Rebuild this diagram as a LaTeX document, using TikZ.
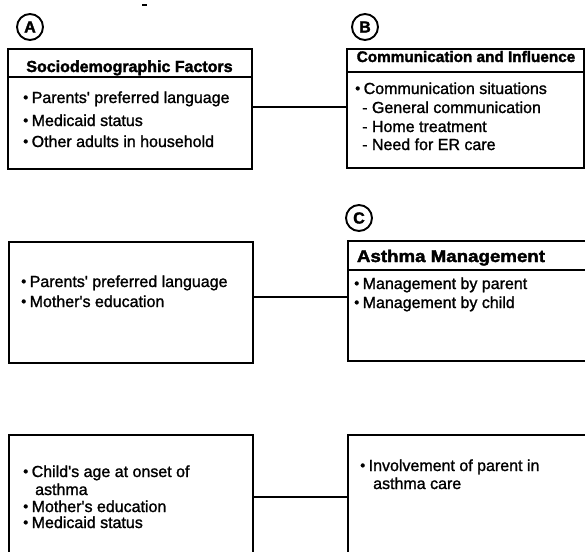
\documentclass[tikz,border=0pt]{standalone}
\usepackage{fontspec}
\setmainfont{Liberation Sans}
\newfontfamily\bodyf[FakeBold=1.3]{Liberation Sans}
\newfontfamily\headf[FakeBold=2]{Liberation Sans Bold}
\usepackage{graphicx}
\newcommand{\bu}{\makebox[8.5pt][l]{\raisebox{0.05em}{\scalebox{0.9}{•}}}}
\begin{document}
\begin{tikzpicture}[x=1pt,y=-1pt,
  box/.style={draw, line width=1.5pt, rectangle, inner sep=0pt, anchor=north west},
  ttl/.style={font=\fontsize{16}{18}\selectfont\headf, anchor=base, inner sep=0pt},
  itm/.style={font=\fontsize{16}{18}\selectfont\bodyf, anchor=base west, inner sep=0pt},
  lbl/.style={draw, circle, line width=1.9pt, minimum size=26pt, inner sep=0pt, font=\fontsize{16}{16}\selectfont\headf},
  link/.style={line width=1.5pt}]
\useasboundingbox (0,0) rectangle (585,551);
\clip (0,0) rectangle (585,551);
\fill[white] (0,0) rectangle (585,551);
% stray mark
\coordinate (m1) at (142,5);
\coordinate (m2) at (147,5);
\draw[line width=1.5pt] (m1) -- (m2);
% boxes
\node[box, minimum width=244pt, minimum height=120pt] (A) at (7,48) {};
\node[box, minimum width=237pt, minimum height=119pt] (B) at (346,48) {};
\node[box, minimum width=244pt, minimum height=121pt] (D) at (8,241) {};
\node[box, minimum width=250pt, minimum height=120pt] (C) at (347,240) {};
\node[box, minimum width=244pt, minimum height=130pt] (E) at (8,434) {};
\node[box, minimum width=250pt, minimum height=130pt] (F) at (347,434) {};
% header separators
\draw[link] (A.west |- 0,77) -- (A.east |- 0,77);
\draw[link] (B.west |- 0,72) -- (B.east |- 0,72);
\draw[link] (C.west |- 0,270) -- (C.east |- 0,270);
% connectors
\draw[link] (A.east |- 0,107) -- (B.west |- 0,107);
\draw[link] (D.east |- 0,297) -- (C.west |- 0,297);
\draw[link] (E.east |- 0,497) -- (F.west |- 0,497);
% circle labels
\node[lbl] (LA) at (30,27) {A};
\node[lbl] (LB) at (365,27) {B};
\node[lbl] (LC) at (359,218) {C};
% titles
\node[ttl] (At) at (129.5,72) {Sociodemographic Factors};
\node[ttl, font=\fontsize{15.3}{18}\selectfont\headf] (Bt) at (466,62) {Communication and Influence};
\node[ttl] (Ct) at (451,262) {\scalebox{1.1}[1]{\fontsize{17}{18}\selectfont Asthma Management}};
% box A items
\node[itm] (A1) at (23,103) {\bu Parents' preferred language};
\node[itm] (A2) at (23,126) {\bu Medicaid status};
\node[itm] (A3) at (23,147) {\bu Other adults in household};
% box B items
\node[itm] (B1) at (355,94) {\bu Communication situations};
\node[itm] (B2) at (362,113) {- General communication};
\node[itm] (B3) at (362,132) {- Home treatment};
\node[itm] (B4) at (362,150) {- Need for ER care};
% box D items
\node[itm] (D1) at (21,287) {\bu Parents' preferred language};
\node[itm] (D2) at (21,307) {\bu Mother's education};
% box C items
\node[itm] (C1) at (354,289) {\bu Management by parent};
\node[itm] (C2) at (354,308) {\bu Management by child};
% box E items
\node[itm] (E1) at (23,477) {\bu Child's age at onset of};
\node[itm] (E2) at (35,495) {asthma};
\node[itm] (E3) at (23,512) {\bu Mother's education};
\node[itm] (E4) at (23,528) {\bu Medicaid status};
% box F items
\node[itm] (F1) at (360,471) {\bu Involvement of parent in};
\node[itm] (F2) at (373,489) {asthma care};
\end{tikzpicture}
\end{document}
